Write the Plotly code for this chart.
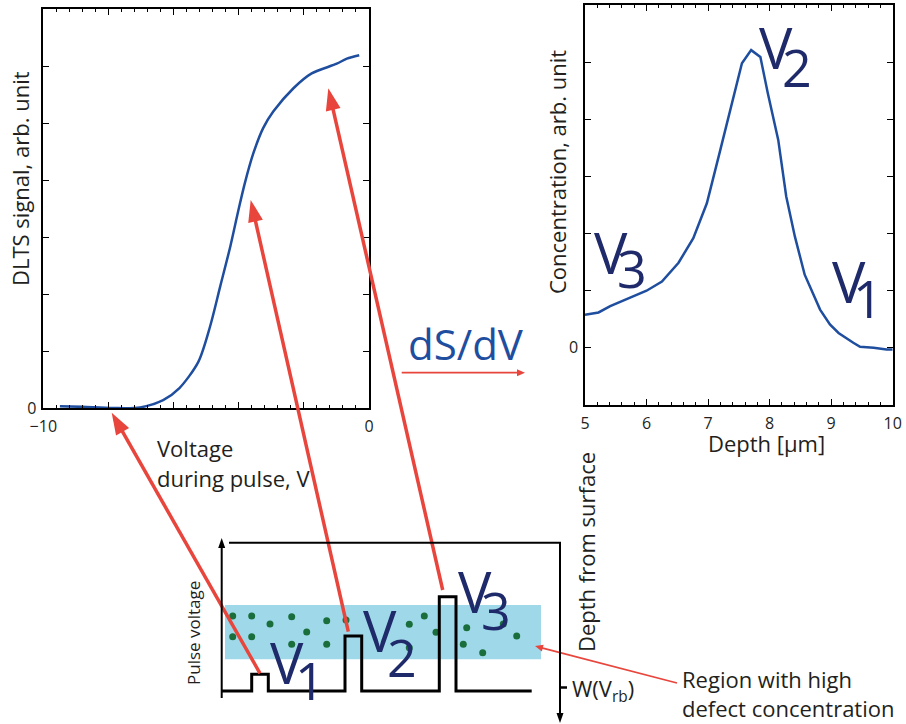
import math
import plotly.graph_objects as go

# ---------------- data ----------------
volt = [-9.49, -8.8, -7.86, -7.03, -6.32, -5.82, -5.24, -4.88, -4.57, -4.26,
        -4.01, -3.81, -3.55, -3.25, -2.94, -2.32, -1.76, -0.99, -0.68, -0.3]
dlts = [0.03, 0.02, 0.0, 0.01, 0.14, 0.35, 0.81, 1.43, 2.13, 2.83,
        3.47, 3.95, 4.47, 4.91, 5.2, 5.61, 5.87, 6.04, 6.13, 6.19]

depth = [5.0, 5.22, 5.41, 5.68, 6.0, 6.25, 6.52, 6.76, 6.98, 7.2, 7.38, 7.55,
         7.7, 7.85, 7.97, 8.14, 8.27, 8.41, 8.57, 8.82, 8.98, 9.12, 9.36,
         9.47, 9.69, 9.9, 10.0]
conc = [0.58, 0.62, 0.73, 0.86, 1.0, 1.16, 1.49, 1.92, 2.53, 3.47, 4.22, 4.98,
        5.21, 5.09, 4.46, 3.64, 2.65, 1.95, 1.28, 0.67, 0.41, 0.26, 0.09,
        0.02, 0.0, -0.03, -0.03]

left_xticks = [-10, -8, -6, -4, -2, 0]
left_xtext = ["\u221210", "", "", "", "", "0"]
right_xticks = [5, 6, 7, 8, 9, 10]

# schematic (overlay in page pixels)
pulse_left = [251.7, 345.0, 439.3]
pulse_right = [268.3, 361.7, 456.0]
pulse_top = [674.3, 636.0, 596.7]
pulse_base = 691.0
pulse_start, pulse_end = 221.7, 531.7

dot_x = [232.7, 251.7, 270.0, 291.7, 326.7, 346.0, 306.7, 232.7, 251.7, 291.7,
         326.7, 409.3, 424.3, 436.0, 409.3, 466.7, 503.3, 516.7, 463.3, 482.7]
dot_y = [616.0, 616.0, 624.0, 616.7, 620.7, 620.0, 632.0, 636.7, 636.7, 644.3,
         644.3, 624.3, 616.0, 632.3, 647.7, 627.7, 624.0, 636.0, 644.3, 652.7]

W, H = 906, 724
FONT = "Open Sans"
TXT = "#231f20"
BLUE = "#1f4e9f"
NAVY = "#1f2a6b"
RED = "#e8453c"
CYAN = "#9fd9e9"
GREEN = "#1a6e3c"

fig = go.Figure()

fig.add_trace(go.Scatter(x=volt, y=dlts, mode="lines", line=dict(color=BLUE, width=2.5, shape="spline", smoothing=0.8),
                         xaxis="x", yaxis="y", hoverinfo="skip"))
fig.add_trace(go.Scatter(x=depth, y=conc, mode="lines", line=dict(color=BLUE, width=2.5),
                         xaxis="x2", yaxis="y2", hoverinfo="skip"))

# pulse train
px, py = [pulse_start], [pulse_base]
for l, r, t in zip(pulse_left, pulse_right, pulse_top):
    px += [l, l, r, r]
    py += [pulse_base, t, t, pulse_base]
px.append(pulse_end)
py.append(pulse_base)

shapes = []
# cyan region
shapes.append(dict(type="rect", xref="x3", yref="y3", x0=225, x1=541, y0=605, y1=659.3,
                   fillcolor=CYAN, line=dict(width=0), layer="below"))

fig.add_trace(go.Scatter(x=dot_x, y=dot_y, mode="markers", marker=dict(color=GREEN, size=7),
                         xaxis="x3", yaxis="y3", hoverinfo="skip"))
fig.add_trace(go.Scatter(x=px, y=py, mode="lines", line=dict(color="black", width=3),
                         xaxis="x3", yaxis="y3", hoverinfo="skip"))


def arrow(x0, y0, x1, y1, width, hl, hw, color):
    dx, dy = x1 - x0, y1 - y0
    L = math.hypot(dx, dy)
    ux, uy = dx / L, dy / L
    bx, by = x1 - hl * ux, y1 - hl * uy
    nx, ny = -uy * hw / 2, ux * hw / 2
    out = [dict(type="line", xref="x3", yref="y3", x0=x0, y0=y0, x1=bx + ux * 1, y1=by + uy * 1,
                line=dict(color=color, width=width), layer="above"),
           dict(type="path", xref="x3", yref="y3",
                path=f"M {x1},{y1} L {bx + nx},{by + ny} L {bx - nx},{by - ny} Z",
                fillcolor=color, line=dict(width=0), layer="above")]
    return out


# red arrows from pulses to curve
shapes += arrow(260.0, 673.3, 111.7, 412.7, 3.5, 22, 15, RED)
shapes += arrow(348.3, 631.7, 250.7, 200.0, 3.5, 22, 15, RED)
shapes += arrow(442.7, 590.0, 328.3, 88.3, 3.5, 22, 15, RED)
# dS/dV arrow
shapes += arrow(401.7, 372.7, 525.0, 372.7, 1.8, 8, 7, RED)
# region pointer
shapes += arrow(677.0, 683.0, 535.0, 646.0, 1.8, 8, 7, RED)
# axes of schematic
shapes += arrow(221.7, 698.0, 221.7, 538.0, 2, 10, 7, "black")
shapes.append(dict(type="line", xref="x3", yref="y3", x0=229, x1=561, y0=542.7, y1=542.7,
                   line=dict(color="black", width=2)))
shapes += arrow(560.0, 542.7, 560.0, 723.0, 2, 10, 7, "black")
shapes.append(dict(type="line", xref="x3", yref="y3", x0=560, x1=567, y0=687.5, y1=687.5,
                   line=dict(color="black", width=2.5)))

ann = []


def txt(x, y, s, size, color=TXT, xanchor="center", yanchor="middle", angle=0):
    ann.append(dict(x=x, y=y, xref="x3", yref="y3", text=s, showarrow=False,
                    font=dict(family=FONT, size=size, color=color),
                    xanchor=xanchor, yanchor=yanchor, textangle=angle))


BIG, SUBS = 56, 52
VOFF, DOFF = 1.5, -3
for (vx, vy, dx, dy, d) in [(775.5, 45.8, 796.5, 69.2, "2"), (610.5, 250.8, 631.5, 270.8, "3"),
                            (848.8, 279.0, 868.3, 300.0, "1"), (286.7, 660.0, 310.0, 682.3, "1"),
                            (380.0, 628.3, 402.0, 659.0, "2"), (474.8, 589.5, 495.5, 612.3, "3")]:
    txt(vx, vy + VOFF, "V", BIG, NAVY)
    txt(dx, dy + DOFF, d, SUBS, NAVY)

txt(465.5, 343.5, "dS/dV", 42, BLUE)
txt(20, 179, "DLTS signal, arb. unit", 22, angle=-90)
txt(557, 172, "Concentration, arb. unit", 22, angle=-90)
txt(766, 443, "Depth [\u03bcm]", 22)
txt(155, 448, "Voltage", 22, xanchor="left")
txt(155, 478, "during pulse, V", 22, xanchor="left")
txt(193, 633, "Pulse voltage", 17, angle=-90)
txt(586, 552, "Depth from surface", 22, angle=-90)
txt(570, 690, "W(V<sub>rb</sub>)", 22, xanchor="left")
txt(680, 679, "Region with high", 22, xanchor="left")
txt(680, 708, "defect concentration", 22, xanchor="left")

axis_common = dict(showgrid=False, zeroline=False, showline=True, linecolor="black", linewidth=1.5,
                   mirror="ticks", ticks="inside", ticklen=6, tickcolor="black", tickwidth=1,
                   automargin=False,
                   tickfont=dict(family=FONT, size=16, color=TXT), fixedrange=True)

fig.update_layout(
    width=W, height=H, margin=dict(l=0, r=0, t=0, b=0, autoexpand=False),
    paper_bgcolor="white", plot_bgcolor="rgba(0,0,0,0)", showlegend=False,
    xaxis=dict(domain=[43.3 / W, 369 / W], range=[-10, 0], anchor="y", tickmode="array",
               tickvals=left_xticks, ticktext=left_xtext, ticklabelstandoff=3,
               minor=dict(dtick=0.4, tick0=-10, ticks="inside", ticklen=3, tickcolor="black"),
               **axis_common),
    yaxis=dict(domain=[1 - 408 / H, 1 - 9 / H], range=[0, 7], anchor="x", tickmode="array",
               tickvals=[0], ticktext=["0"], ticklabelstandoff=2,
               minor=dict(dtick=1, tick0=0, ticks="inside", ticklen=6, tickcolor="black"),
               **axis_common),
    xaxis2=dict(domain=[585 / W, 892.7 / W], range=[5, 10], anchor="y2", tickmode="array",
                tickvals=right_xticks, ticktext=[str(v) for v in right_xticks], ticklabelstandoff=3,
                minor=dict(dtick=0.2, tick0=5, ticks="inside", ticklen=3, tickcolor="black"),
                **axis_common),
    yaxis2=dict(domain=[1 - 405 / H, 1 - 5 / H], range=[-1, 6], anchor="x2", tickmode="array",
                tickvals=[0], ticktext=["0"], ticklabelstandoff=2,
                minor=dict(dtick=1, tick0=-1, ticks="inside", ticklen=6, tickcolor="black"),
                **axis_common),
    xaxis3=dict(domain=[0, 1], range=[0, W], anchor="y3", visible=False, fixedrange=True, automargin=False),
    yaxis3=dict(domain=[0, 1], range=[H, 0], anchor="x3", visible=False, fixedrange=True, automargin=False),
    shapes=shapes, annotations=ann,
)

fig.write_html("out.html", config={"displayModeBar": False},
               post_script="document.body.style.margin='0';document.body.style.overflow='hidden';")
